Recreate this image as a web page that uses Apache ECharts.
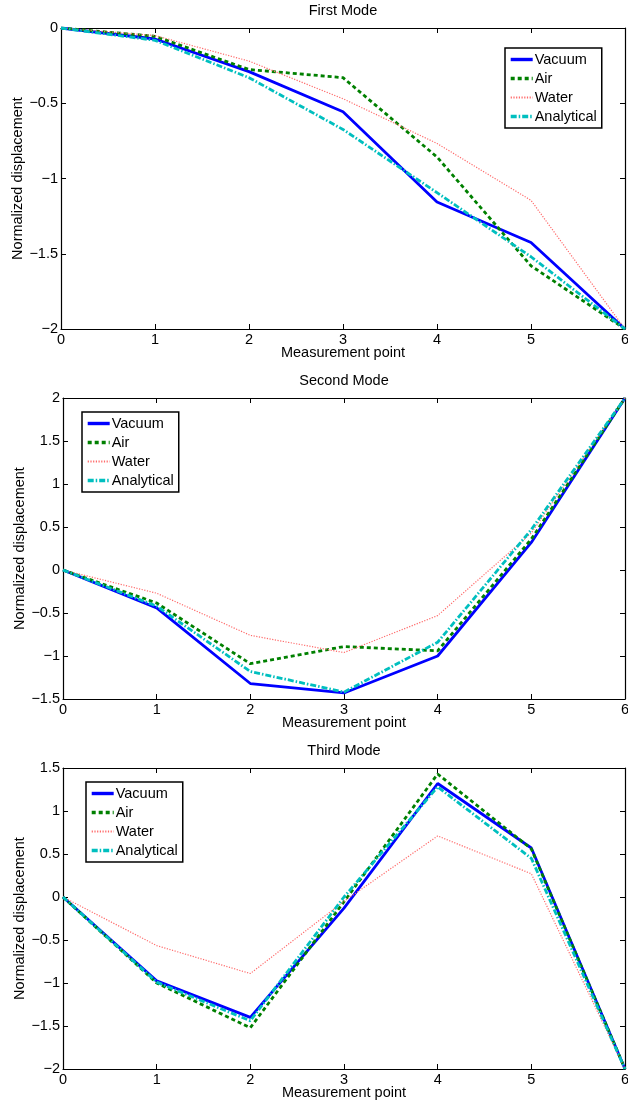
<!DOCTYPE html>
<html>
<head>
<meta charset="utf-8">
<script src="https://cdn.jsdelivr.net/npm/echarts@6/dist/echarts.min.js"></script>
<style>
html,body{margin:0;padding:0;background:#fff;}
#chart{width:628px;height:1105px;}
</style>
</head>
<body>
<div id="chart"></div>
<script>
const points = [0, 1, 2, 3, 4, 5, 6];
const seriesNames = ['Vacuum', 'Air', 'Water', 'Analytical'];
const titles = ['First Mode', 'Second Mode', 'Third Mode'];

const mode1Vacuum     = [0, -0.073, -0.29, -0.557, -1.156, -1.425, -2];
const mode1Air        = [0, -0.055, -0.276, -0.33, -0.857, -1.58, -2];
const mode1Water      = [0, -0.05, -0.22, -0.47, -0.767, -1.145, -2];
const mode1Analytical = [0, -0.082, -0.33, -0.674, -1.094, -1.52, -2];

const mode2Vacuum     = [0, -0.44, -1.32, -1.43, -1.0, 0.32, 2];
const mode2Air        = [0, -0.384, -1.09, -0.89, -0.94, 0.36, 2];
const mode2Water      = [0, -0.27, -0.76, -0.96, -0.53, 0.43, 2];
const mode2Analytical = [0, -0.42, -1.18, -1.42, -0.84, 0.47, 2];

const mode3Vacuum     = [0, -0.975, -1.40, -0.13, 1.32, 0.57, -2];
const mode3Air        = [0, -1.0, -1.52, -0.055, 1.43, 0.56, -2];
const mode3Water      = [0, -0.565, -0.89, -0.05, 0.71, 0.27, -2];
const mode3Analytical = [0, -0.99, -1.44, 0.0, 1.28, 0.45, -2];

const yMin = [-2, -1.5, -2];
const yMax = [0, 2, 1.5];

const modes = [
  [mode1Vacuum, mode1Air, mode1Water, mode1Analytical],
  [mode2Vacuum, mode2Air, mode2Water, mode2Analytical],
  [mode3Vacuum, mode3Air, mode3Water, mode3Analytical]
];

const FONT = "'Liberation Sans', Arial, Helvetica, sans-serif";
const FS = 14.5;

const grids = [
  {left: 61, top: 28, width: 564, height: 301},
  {left: 63, top: 398, width: 562, height: 301},
  {left: 63, top: 768, width: 562, height: 301}
];
const titleTops = [3, 373, 743];
const legendPos = [
  {left: 505, top: 48},
  {left: 82, top: 412},
  {left: 86, top: 782}
];

const styles = [
  {color: '#0000ff', width: 2.8, type: 'solid'},
  {color: '#008000', width: 2.8, type: [4, 3]},
  {color: '#ff6a6a', width: 1.2, type: [1.2, 1.5]},
  {color: '#00bfbf', width: 2.8, type: [6, 2, 1.5, 2]}
];

const fmt = v => String(v).replace('-', '\u2212');

const option = {
  animation: false,
  backgroundColor: '#fff',
  textStyle: {fontFamily: FONT},
  title: titles.map((t, i) => ({
    text: t,
    left: grids[i].left + grids[i].width / 2,
    textAlign: 'center',
    top: titleTops[i],
    padding: 0,
    textStyle: {fontFamily: FONT, fontSize: FS, fontWeight: 'normal', color: '#000'}
  })),
  grid: grids.map(g => Object.assign({containLabel: false, outerBoundsMode: 'none'}, g)),
  legend: legendPos.map((p, i) => ({
    data: seriesNames.map((n, k) => ({
      name: n,
      lineStyle: {width: styles[k].width + 0.6, type: styles[k].type, color: styles[k].color}
    })),
    orient: 'vertical',
    left: p.left,
    top: p.top,
    backgroundColor: '#fff',
    borderColor: '#000',
    borderWidth: 1.5,
    borderRadius: 0,
    padding: [4, 5, 4, 4],
    itemGap: 4,
    itemWidth: 22,
    itemHeight: 14,
    selectedMode: false,
    itemStyle: {opacity: 0},
    textStyle: {fontFamily: FONT, fontSize: FS, color: '#000', padding: [0, 0, 0, -3]}
  })),
  xAxis: [],
  yAxis: [],
  series: []
};

for (let i = 0; i < 3; i++) {
  const common = {
    gridIndex: i, type: 'value', min: 0, max: 6, interval: 1,
    axisLine: {show: true, onZero: false, lineStyle: {color: '#000', width: 1.2}},
    axisTick: {show: true, inside: true, length: 5, lineStyle: {color: '#000'}},
    splitLine: {show: false}
  };
  option.xAxis.push(Object.assign({}, common, {
    position: 'bottom',
    name: 'Measurement point',
    nameLocation: 'middle',
    nameGap: 16,
    nameMoveOverlap: false,
    nameTextStyle: {fontFamily: FONT, fontSize: FS, color: '#000'},
    axisLabel: {show: true, margin: 3, fontFamily: FONT, fontSize: FS, color: '#000', formatter: fmt}
  }));
  option.xAxis.push(Object.assign({}, common, {
    position: 'top', axisLabel: {show: false}
  }));
  const ycommon = {
    gridIndex: i, type: 'value', min: yMin[i], max: yMax[i], interval: 0.5,
    axisLine: {show: true, onZero: false, lineStyle: {color: '#000', width: 1.2}},
    axisTick: {show: true, inside: true, length: 5, lineStyle: {color: '#000'}},
    splitLine: {show: false}
  };
  option.yAxis.push(Object.assign({}, ycommon, {
    position: 'left',
    name: 'Normalized displacement',
    nameLocation: 'middle',
    nameGap: 36,
    nameMoveOverlap: false,
    nameRotate: 90,
    nameTextStyle: {fontFamily: FONT, fontSize: FS, color: '#000'},
    axisLabel: {show: true, margin: 3, fontFamily: FONT, fontSize: FS, color: '#000', formatter: fmt}
  }));
  option.yAxis.push(Object.assign({}, ycommon, {
    position: 'right', axisLabel: {show: false}
  }));

  modes[i].forEach((vals, k) => {
    option.series.push({
      name: seriesNames[k],
      type: 'line',
      xAxisIndex: 2 * i,
      yAxisIndex: 2 * i,
      data: points.map((x, j) => [x, vals[j]]),
      symbol: 'none',
      silent: true,
      color: styles[k].color,
      lineStyle: {color: styles[k].color, width: styles[k].width, type: styles[k].type},
      z: 2 + k
    });
  });
}

const chart = echarts.init(document.getElementById('chart'), null, {renderer: 'canvas'});
chart.setOption(option);
</script>
</body>
</html>
